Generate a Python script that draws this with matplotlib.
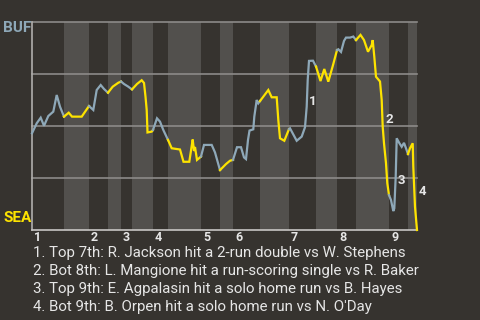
import matplotlib
matplotlib.use("Agg")
import matplotlib.pyplot as plt
import matplotlib.transforms as mtransforms
import numpy as np

plt.rcParams['font.family'] = ['Roboto', 'DejaVu Sans']

# ---- data ----
# half-inning boundaries along the game-progress axis
half_bounds = [0, 32, 57, 76, 89, 100, 121, 136, 169, 188, 201, 228, 257, 284, 305, 324, 357, 376, 385]
innings = ['1', '2', '3', '4', '5', '6', '7', '8', '9']

# game progress (x) and BUF win probability (%)
prog = [0, 4.7, 8.7, 12, 16.3, 21.3, 24.7, 28, 32,
        36.7, 40, 49.7, 57,
        61.3, 64.7, 68.7, 72, 76,
        80.7, 86.3, 89,
        92, 96, 100,
        105, 109.7, 112, 113.5, 114.7, 115.5, 119.7, 121,
        125, 128, 131.3, 136,
        139.7, 148, 151.5, 157.3, 159.7, 160.7, 162, 163, 165, 169,
        172, 179.7, 183, 188,
        194, 198, 201,
        205, 209, 212, 214, 216, 217.5, 221.3, 222.3, 224.7, 226.3, 228,
        231.3, 236.3, 239.7, 244.7, 246.3, 248, 252.3, 257,
        258, 264.7, 269.7, 273, 274.7, 275.7, 277, 281, 284,
        288.5, 292.3, 296.3, 301.3, 305,
        306.3, 309, 312, 314, 318, 321.3, 324,
        328.5, 332, 336, 339.7, 340.7, 342.3, 344, 348, 349.7, 350.7, 352, 354, 355.3, 357,
        359, 361.3, 362.3, 363.7, 364.7, 367.3, 369.7, 372, 374, 376,
        378, 380.7, 381.3, 383, 385]
buf_wp = [46.5, 51.3, 54.0, 50.1, 54.8, 56.9, 64.9, 59.3, 54.5,
          56.4, 54.5, 54.5, 59.6,
          57.7, 67.3, 69.7, 67.8, 66.0,
          68.9, 70.8, 71.4,
          70.2, 69.0, 67.6,
          70.2, 72.0, 70.7, 64.1, 57.7, 46.9, 47.3, 48.1,
          53.7, 52.1, 48.1, 43.3,
          39.3, 38.7, 32.8, 32.8, 40.4, 43.5, 38.0, 39.9, 33.7, 35.3,
          40.9, 40.9, 37.3, 28.8,
          31.7, 33.3, 33.7,
          39.8, 39.8, 34.9, 34.1, 43.3, 47.8, 48.4, 54.5, 62.5, 60.9, 62.0,
          64.1, 67.3, 63.8, 63.8, 52.9, 44.1, 42.9, 48.5,
          48.9, 42.9, 44.9, 49.4, 59.3, 72.1, 81.3, 81.4, 78.6,
          71.6, 77.4, 71.3, 79.8, 86.5,
          86.9, 85.6, 90.9, 92.5, 92.5, 93.0, 91.3,
          93.8, 91.3, 85.7, 88.9, 91.3, 83.3, 73.7, 71.4, 62.5, 49.7, 41.7, 32.1, 22.5, 16.8,
          14.4, 9.1, 10.4, 25.6, 44.1, 41.8, 40.0, 41.9, 39.3, 36.5,
          39.3, 41.7, 30.4, 11.2, 0.0]

event_ids = ['1', '2', '3', '4']
event_text = [
    "1. Top 7th: R. Jackson hit a 2-run double vs W. Stephens",
    "2. Bot 8th: L. Mangione hit a run-scoring single vs R. Baker",
    "3. Top 9th: E. Agpalasin hit a solo home run vs B. Hayes",
    "4. Bot 9th: B. Orpen hit a solo home run vs N. O'Day",
]
teams = ['BUF', 'SEA']

# ---- style / layout ----
BG = '#36332f'
BAND = '#52504d'
BLUE = '#8ea8b8'
YELLOW = '#fde300'
TXT = '#e6e6e6'
event_label_pos = [(281, 62.0), (357.5, 52.9), (369, 23.6), (390, 18.3)]

W, H = 480, 320
fig = plt.figure(figsize=(W / 100, H / 100), dpi=100, facecolor=BG)
ax = fig.add_axes([32 / W, 1 - 230 / H, (417 - 32) / W, (230 - 22) / H])
ax.set_facecolor(BG)
ax.set_xlim(half_bounds[0], half_bounds[-1])
ax.set_ylim(0, 100)

# half-inning bands
for i in range(len(half_bounds) - 1):
    ax.axvspan(half_bounds[i], half_bounds[i + 1], color=BG if i % 2 == 0 else BAND,
               lw=0, zorder=0)

# grid lines
for g in [25, 50, 75, 100]:
    ax.axhline(g, color='#8c8a88', lw=1.2, zorder=1, clip_on=False)

# line, split by half inning
x = np.array(prog)
y = np.array(buf_wp)
half = np.clip(np.searchsorted(half_bounds, x, side='left') - 1, 0, None)
for h in np.unique(half):
    idx = np.where(half == h)[0]
    start = max(idx[0] - 1, 0)
    sl = slice(start, idx[-1] + 1)
    ax.plot(x[sl], y[sl], color=BLUE if h % 2 == 0 else YELLOW, lw=1.6,
            zorder=3, solid_joinstyle='miter', clip_on=False)

# spines
for s in ['top', 'right']:
    ax.spines[s].set_visible(False)
ax.spines['left'].set_color('#b0aeac')
ax.spines['bottom'].set_color('#c8c6c4')
ax.spines['left'].set_linewidth(1.2)
ax.spines['bottom'].set_linewidth(1.2)
ax.set_yticks([])

# inning ticks at start of each top half
ax.set_xticks(half_bounds[0:-1:2])
ax.set_xticklabels(innings, ha='left', color=TXT, fontsize=9, fontweight='bold')
ax.tick_params(axis='x', length=0, pad=1)
offset = mtransforms.ScaledTranslation(2 / 100, 0, fig.dpi_scale_trans)
for lab in ax.get_xticklabels():
    lab.set_transform(lab.get_transform() + offset)

# event labels
for lbl, (ex, ey) in zip(event_ids, event_label_pos):
    ax.text(ex, ey, lbl, color=TXT, fontsize=9.5, fontweight='bold',
            ha='center', va='center', zorder=4, clip_on=False)

# team labels
fig.text(3 / W, 1 - 28 / H, teams[0], color=BLUE, fontsize=11, fontweight='bold',
         ha='left', va='center')
fig.text(3 / W, 1 - 218.5 / H, teams[1], color=YELLOW, fontsize=11, fontweight='bold',
         ha='left', va='center')

# footnotes
for i, t in enumerate(event_text):
    fig.text(33 / W, 1 - (253 + 18 * i) / H, t, color=TXT, fontsize=10.8,
             ha='left', va='center')

fig.savefig('out.png', dpi=100, facecolor=BG)
